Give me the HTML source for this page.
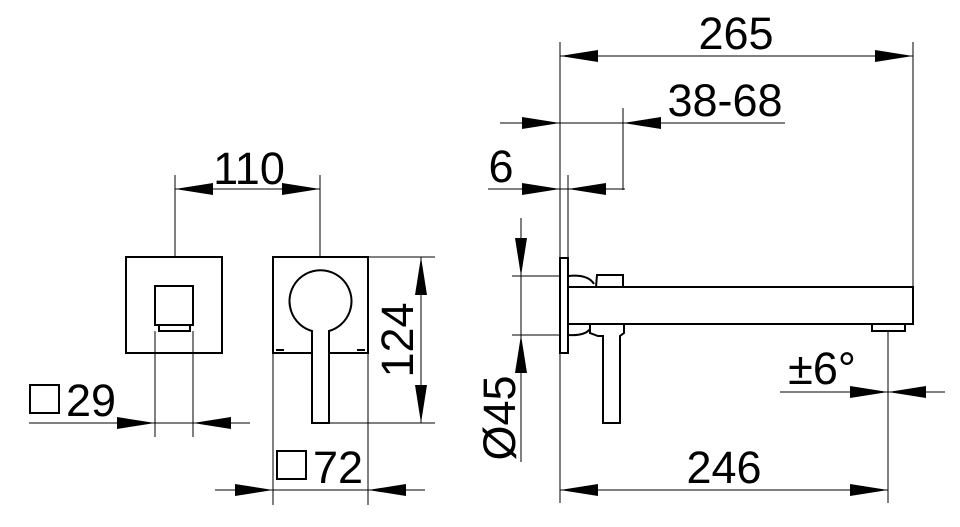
<!DOCTYPE html>
<html><head><meta charset="utf-8"><style>
html,body{margin:0;padding:0;background:#fff;width:960px;height:527px;overflow:hidden}
text{font-family:"Liberation Sans",sans-serif;font-size:45px;fill:#000}
</style></head><body>
<svg width="960" height="527" viewBox="0 0 960 527" xmlns="http://www.w3.org/2000/svg">
<g stroke="#000" fill="none">
<g stroke-width="1">
<line x1="175" y1="175" x2="175" y2="257"/><line x1="320" y1="175" x2="320" y2="257"/>
<line x1="175" y1="189" x2="320" y2="189"/>
<line x1="155" y1="331" x2="155" y2="437"/><line x1="193" y1="331" x2="193" y2="437"/>
<line x1="29" y1="423" x2="250" y2="423"/>
<line x1="368" y1="257" x2="435" y2="257"/><line x1="330" y1="423" x2="435" y2="423"/>
<line x1="421" y1="257" x2="421" y2="423"/>
<line x1="273" y1="353" x2="273" y2="505"/><line x1="368" y1="353" x2="368" y2="505"/>
<line x1="215" y1="490" x2="425" y2="490"/>
<line x1="560" y1="42" x2="560" y2="503"/><line x1="913" y1="42" x2="913" y2="287"/>
<line x1="560" y1="56" x2="913" y2="56"/>
<line x1="500" y1="123" x2="785" y2="123"/>
<line x1="623" y1="108" x2="623" y2="190"/>
<line x1="488" y1="189" x2="625" y2="189"/>
<line x1="568" y1="175" x2="568" y2="258"/>
<line x1="512" y1="276" x2="560" y2="276"/><line x1="512" y1="335" x2="560" y2="335"/>
<line x1="521" y1="218" x2="521" y2="462"/>
<line x1="888" y1="331" x2="888" y2="503"/>
<line x1="780" y1="392" x2="945" y2="392"/>
<line x1="560" y1="490" x2="888" y2="490"/>
</g>
<g stroke-width="2">
<rect x="126" y="257" width="96" height="96"/>
<rect x="155" y="286" width="38" height="39"/>
<rect x="159" y="325" width="31" height="6"/>
<rect x="273" y="257" width="95" height="96"/>
<path d="M312 331 A31 31 0 1 1 329 331 L329 423 L312 423 Z" fill="#fff"/>
<line x1="276" y1="350" x2="284" y2="350"/><line x1="357" y1="350" x2="365" y2="350"/>
<rect x="560" y="258" width="8" height="95"/>
<rect x="568" y="287" width="345" height="37"/>
<path d="M596 287 L597 275 L623 275 L623 287"/>
<path d="M568 276 Q588 274 594 284"/>
<path d="M568 335 Q585 336 590 329"/>
<path d="M590 325 L590 333 L598 336 L603 336 L603 423 L620 423 L620 336 L624 333 L624 325"/>
<rect x="872" y="324" width="33" height="7"/>
</g>
</g>
<g fill="#000">
<path d="M175 189 L213 183 L213 195Z"/><path d="M320 189 L282 183 L282 195Z"/>
<path d="M155 423 L117 417 L117 429Z"/><path d="M193 423 L231 417 L231 429Z"/>
<path d="M421 257 L415 295 L427 295Z"/><path d="M421 423 L415 385 L427 385Z"/>
<path d="M273 490 L235 484 L235 496Z"/><path d="M368 490 L406 484 L406 496Z"/>
<path d="M560 56 L598 50 L598 62Z"/><path d="M913 56 L875 50 L875 62Z"/>
<path d="M560 123 L522 117 L522 129Z"/><path d="M623 123 L661 117 L661 129Z"/>
<path d="M560 189 L522 183 L522 195Z"/><path d="M568 189 L606 183 L606 195Z"/>
<path d="M521 276 L515 238 L527 238Z"/><path d="M521 335 L515 373 L527 373Z"/>
<path d="M888 392 L850 386 L850 398Z"/><path d="M888 392 L926 386 L926 398Z"/>
<path d="M560 490 L598 484 L598 496Z"/><path d="M888 490 L850 484 L850 496Z"/>
</g>
<text x="249" y="184" text-anchor="middle">110</text>
<rect x="30" y="385" width="29" height="28" fill="none" stroke="#000" stroke-width="2"/>
<text x="66" y="416">29</text>
<rect x="277" y="451" width="29" height="28" fill="none" stroke="#000" stroke-width="2"/>
<text x="313" y="483">72</text>
<text transform="translate(413,340) rotate(-90)" text-anchor="middle">124</text>
<text x="736" y="49" text-anchor="middle">265</text>
<text x="725" y="116" text-anchor="middle">38-68</text>
<text x="501" y="182" text-anchor="middle">6</text>
<text transform="translate(515,418) rotate(-90)" text-anchor="middle">Ø45</text>
<text x="822" y="384" text-anchor="middle">±6°</text>
<text x="724" y="483" text-anchor="middle">246</text>
</svg>
</body></html>
